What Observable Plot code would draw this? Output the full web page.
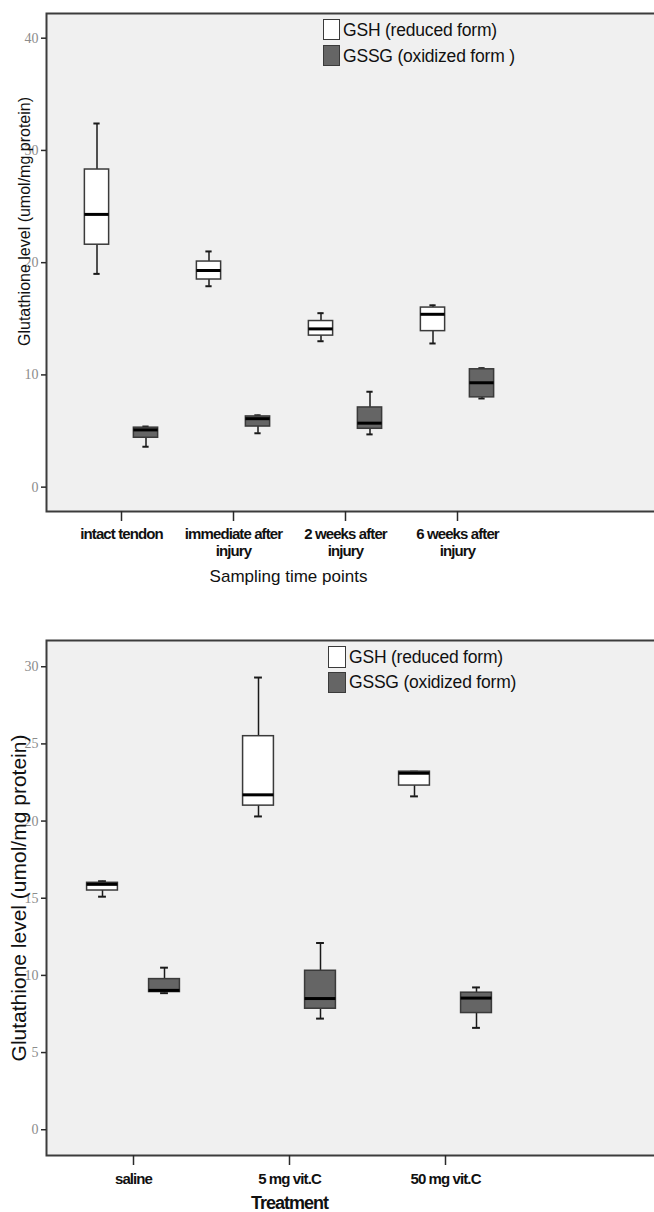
<!DOCTYPE html>
<html><head><meta charset="utf-8">
<script src="https://cdn.jsdelivr.net/npm/d3@7"></script>
<script src="https://cdn.jsdelivr.net/npm/@observablehq/plot@0.6"></script>
<style>
body{margin:0;background:#fff;}
.panel{position:relative;width:654px;overflow:hidden;}
.panel svg{display:block;overflow:hidden;}
.sw{position:absolute;box-sizing:border-box;border:1.5px solid #3a3a3a;}
.lg{position:absolute;font-family:"Liberation Sans",Arial,sans-serif;font-size:17.5px;color:#111;white-space:nowrap;line-height:1;letter-spacing:-0.2px;}
</style></head><body>
<div id="top" class="panel"></div>
<div id="bottom" class="panel"></div>
<script>
// ---------- data ----------
const timePoints = ["intact tendon","immediate after injury","2 weeks after injury","6 weeks after injury"];
const timeTickLabels = ["intact tendon","immediate after\ninjury","2 weeks after\ninjury","6 weeks after\ninjury"];
const gshTimeMin = [19.0, 17.9, 13.0, 12.8];
const gshTimeQ1  = [21.6, 18.5, 13.5, 13.9];
const gshTimeMed = [24.3, 19.3, 14.1, 15.4];
const gshTimeQ3  = [28.3, 20.1, 14.8, 16.0];
const gshTimeMax = [32.4, 21.0, 15.5, 16.2];
const gssgTimeMin = [3.6, 4.8, 4.7, 7.9];
const gssgTimeQ1  = [4.4, 5.4, 5.2, 8.0];
const gssgTimeMed = [5.1, 6.1, 5.7, 9.3];
const gssgTimeQ3  = [5.3, 6.3, 7.1, 10.5];
const gssgTimeMax = [5.4, 6.4, 8.5, 10.6];

const treatments = ["saline","5 mg vit.C","50 mg vit.C"];
const gshTrtMin = [15.1, 20.3, 21.6];
const gshTrtQ1  = [15.5, 21.0, 22.3];
const gshTrtMed = [15.9, 21.7, 23.1];
const gshTrtQ3  = [16.0, 25.5, 23.2];
const gshTrtMax = [16.1, 29.3, 23.2];
const gssgTrtMin = [8.85, 7.2, 6.6];
const gssgTrtQ1  = [8.92, 7.84, 7.56];
const gssgTrtMed = [9.03, 8.5, 8.53];
const gssgTrtQ3  = [9.76, 10.3, 8.88];
const gssgTrtMax = [10.5, 12.1, 9.22];

const legendTop = ["GSH (reduced form)","GSSG (oxidized form )"];
const legendBottom = ["GSH (reduced form)","GSSG (oxidized form)"];
const yTicksTop = [0, 10, 20, 30, 40];
const yTicksBottom = [0, 5, 10, 15, 20, 25, 30];
const yLabel = "Glutathione level (umol/mg protein)";
const xTitleTop = "Sampling time points";
const xTitleBottom = "Treatment";

const SANS = '"Liberation Sans", Arial, sans-serif';
const GSH_FILL = "#ffffff", GSSG_FILL = "#656565";

function chart(cfg){
  const marks = [Plot.frame({fill:"#f0f0f0", stroke:"#3c3c3c", strokeWidth:2})];
  const bw = (cfg.xRange[1]-cfg.xRange[0]) / cfg.cats.length;
  cfg.series.forEach((s, si) => {
    const d = cfg.cats.map((c, i) => ({cat:c, min:s.min[i], q1:s.q1[i], med:s.med[i], q3:s.q3[i], max:s.max[i]}));
    const dx = cfg.offsets[si];
    const bIn = (bw - cfg.boxW)/2, cIn = (bw - cfg.capW)/2;
    marks.push(
      Plot.ruleX(d, {x:"cat", y1:"min", y2:"q1", dx, stroke:"#1a1a1a", strokeWidth:1.5}),
      Plot.ruleX(d, {x:"cat", y1:"q3", y2:"max", dx, stroke:"#1a1a1a", strokeWidth:1.5}),
      Plot.tickY(d, {x:"cat", y:"min", dx, insetLeft:cIn, insetRight:cIn, stroke:"#1a1a1a", strokeWidth:2}),
      Plot.tickY(d, {x:"cat", y:"max", dx, insetLeft:cIn, insetRight:cIn, stroke:"#1a1a1a", strokeWidth:2}),
      Plot.barY(d, {x:"cat", y1:"q1", y2:"q3", dx, insetLeft:bIn, insetRight:bIn, fill:s.fill, stroke:"#3a3a3a", strokeWidth:1.5}),
      Plot.tickY(d, {x:"cat", y:"med", dx, insetLeft:bIn, insetRight:bIn, stroke:"#000", strokeWidth:3})
    );
  });
  marks.push(
    Plot.axisY({ticks: cfg.yTicks, tickSize:5, tickPadding:3, stroke:"#2a2a2a", strokeWidth:1.5,
      fill:"#8c8c8c", fontFamily:'"Liberation Serif", "DejaVu Serif", serif', fontSize:14, label:null}),
    Plot.axisX({tickSize:10, tickPadding:cfg.tickPad, stroke:"#2a2a2a", strokeWidth:1.5, fill:"#111",
      fontFamily:SANS, fontWeight:"bold", fontSize:15, lineHeight:1.15, label:null,
      tickFormat: c => cfg.tickLabels[cfg.cats.indexOf(c)]}),
    Plot.text([cfg.yLabel], {frameAnchor:"left", text:d=>d, rotate:-90, dx:cfg.yLabelDx, dy:cfg.yLabelDy,
      textAnchor:"middle", lineAnchor:"middle", fontFamily:SANS, fontSize:cfg.yLabelFS, fill:"#111"}),
    Plot.text([cfg.xTitle], {frameAnchor:"bottom", text:d=>d, dx:cfg.xTitleDx, dy:cfg.xTitleDy,
      textAnchor:"middle", lineAnchor:"middle", fontFamily:SANS, fontWeight:cfg.xTitleWeight,
      fontSize:cfg.xTitleFS, fill:"#111"})
  );
  const svg = Plot.plot({
    width:654, height:cfg.height,
    marginLeft:46, marginRight:-4, marginTop:cfg.marginTop, marginBottom:cfg.marginBottom,
    style:{background:"#fff", overflow:"hidden"},
    x:{type:"band", domain:cfg.cats, range:cfg.xRange, padding:0, axis:null},
    y:{domain:cfg.yDomain, axis:null},
    marks
  });
  // condensed look of the SPSS tick labels
  d3.select(svg).selectAll('g[aria-label="x-axis tick label"] text').style("letter-spacing", "-0.9px");
  d3.select(svg).selectAll('g[aria-label="text"] text')
    .filter(function(){ return this.textContent === cfg.xTitle; })
    .style("letter-spacing", cfg.xTitleSpacing);
  return svg;
}

function legend(el, names, pos){
  const fills = [GSH_FILL, GSSG_FILL];
  names.forEach((n, i) => {
    const sw = document.createElement("div");
    sw.className = "sw";
    Object.assign(sw.style, {left:pos.swX+"px", top:pos.swY[i]+"px", width:pos.swW+"px", height:pos.swH+"px", background:fills[i]});
    el.appendChild(sw);
    const t = document.createElement("div");
    t.className = "lg"; t.textContent = n;
    Object.assign(t.style, {left:pos.txX+"px", top:(pos.base[i]-15.8)+"px"});
    el.appendChild(t);
  });
}

const topEl = document.getElementById("top");
topEl.appendChild(chart({
  height:600, marginTop:13, marginBottom:89,
  cats: timePoints, tickLabels: timeTickLabels,
  xRange:[63, 514], yDomain:[-2.17, 42.2], yTicks:yTicksTop,
  offsets:[-24.5, 24.5], boxW:25, capW:7, tickPad:5,
  series:[
    {min:gshTimeMin, q1:gshTimeQ1, med:gshTimeMed, q3:gshTimeQ3, max:gshTimeMax, fill:GSH_FILL},
    {min:gssgTimeMin, q1:gssgTimeQ1, med:gssgTimeMed, q3:gssgTimeQ3, max:gssgTimeMax, fill:GSSG_FILL}
  ],
  yLabel, yLabelDx:-22, yLabelDy:-41, yLabelFS:16,
  xTitle:xTitleTop, xTitleDx:-64, xTitleDy:65.5, xTitleFS:17, xTitleWeight:"normal", xTitleSpacing:"0px"
}));
legend(topEl, legendTop, {swX:323, swY:[19, 45], swW:17, swH:21, txX:343, base:[37.3, 63.3]});

const botEl = document.getElementById("bottom");
botEl.appendChild(chart({
  height:612, marginTop:40, marginBottom:57,
  cats: treatments, tickLabels: treatments,
  xRange:[54.6, 523.1], yDomain:[-1.67, 31.7], yTicks:yTicksBottom,
  offsets:[-31, 31], boxW:31, capW:8, tickPad:6,
  series:[
    {min:gshTrtMin, q1:gshTrtQ1, med:gshTrtMed, q3:gshTrtQ3, max:gshTrtMax, fill:GSH_FILL},
    {min:gssgTrtMin, q1:gssgTrtQ1, med:gssgTrtMed, q3:gssgTrtQ3, max:gssgTrtMax, fill:GSSG_FILL}
  ],
  yLabel, yLabelDx:-27, yLabelDy:0, yLabelFS:21,
  xTitle:xTitleBottom, xTitleDx:-63, xTitleDy:48, xTitleFS:18, xTitleWeight:"bold", xTitleSpacing:"-1px"
}));
legend(botEl, legendBottom, {swX:328, swY:[46, 71.7], swW:18, swH:21.7, txX:349, base:[65, 90]});
</script>
</body></html>
